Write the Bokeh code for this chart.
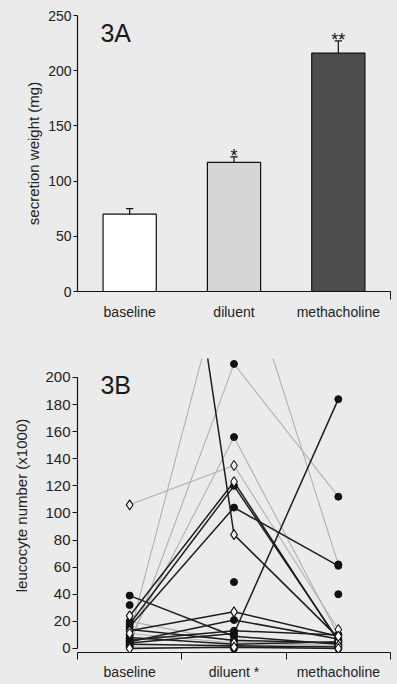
from bokeh.plotting import figure
from bokeh.models import FixedTicker, Label, Range1d
from bokeh.layouts import column
from bokeh.embed import file_html
from bokeh.resources import INLINE
from bokeh.core.properties import value

# ---------------- Panel 3A data ----------------
groups = ["baseline", "diluent", "methacholine"]
secretion_mean = [70, 117, 216]
secretion_err = [5, 5, 11]
bar_colors = ["#ffffff", "#d6d6d6", "#4d4d4d"]
sig_marks = ["", "*", "**"]

# ---------------- Panel 3B data (one entry per subject) ----------------
baseline_vals = [106, 600, 4, 2, 7, 10, 24, 18, 16, 39, 32, 13, 5, 6, 14, 11, 3, 1, 0, 20, 8]
diluent_vals = [135, 84, 11, 210, 156, 305, 123, 120, 104, 9, 49, 27, 21, 13, 6, 4, 2, 0, 1, 5, 3]
metha_vals = [14, 8, 184, 112, 10, 62, 5, 6, 61, 3, 40, 9, 7, 10, 4, 2, 1, 0, 0, 2, 5]
marker_kind = ["diamond", "diamond", "circle", "circle", "circle", "circle", "diamond", "circle",
               "circle", "circle", "circle", "diamond", "circle", "circle", "circle", "diamond",
               "circle", "circle", "diamond", "circle", "circle"]
line_shade = ["light", "dark", "dark", "light", "light", "light", "dark", "dark", "dark", "dark",
              "none", "dark", "dark", "dark", "dark", "light", "dark", "light", "dark", "light", "dark"]
leuco_ticks = list(range(0, 201, 20))
secretion_ticks = list(range(0, 251, 50))

BG = "#ebebeb"
FONT = "Liberation Sans"
xs = [i + 0.5 for i in range(len(groups))]


def style_axes(p, ytick_size):
    for ax in (p.xaxis, p.yaxis):
        ax.major_label_text_font = FONT
        ax.major_label_text_font_size = "14px"
        ax.major_label_text_color = "#222222"
        ax.axis_label_text_font = FONT
        ax.axis_label_text_font_size = "15px"
        ax.axis_label_text_font_style = "normal"
        ax.axis_label_text_color = "#222222"
        ax.axis_line_color = "#111111"
        ax.major_tick_line_color = "#111111"
        ax.minor_tick_line_color = "#111111"
        ax.axis_line_width = 1.2
    p.yaxis.major_label_text_font_size = ytick_size


# ---------------- Figure 3A ----------------
p1 = figure(width=397, height=322, x_range=Range1d(0, 3), y_range=Range1d(0, 250),
            output_backend="svg", toolbar_location=None,
            min_border_left=77, min_border_right=1, min_border_top=15, min_border_bottom=30)
p1.background_fill_color = BG
p1.border_fill_color = BG
p1.outline_line_color = None
p1.grid.visible = False

p1.vbar(x=xs, top=secretion_mean, width=0.51, fill_color=bar_colors,
        line_color="#111111", line_width=1.2)
err_top = [m + e for m, e in zip(secretion_mean, secretion_err)]
p1.segment(x0=xs, y0=secretion_mean, x1=xs, y1=err_top, line_color="#111111", line_width=1.2)
p1.segment(x0=[x - 0.035 for x in xs], y0=err_top, x1=[x + 0.035 for x in xs], y1=err_top,
           line_color="#111111", line_width=1.2)
p1.text(x=xs, y=[t + 1 for t in err_top], text=sig_marks, text_align="center",
        text_baseline="alphabetic", text_font=value(FONT), text_font_size="18px",
        text_color="#111111")

p1.xaxis.ticker = FixedTicker(ticks=xs, minor_ticks=[3])
p1.xaxis.major_label_overrides = {x: g for x, g in zip(xs, groups)}
p1.xaxis.major_tick_out = 0
p1.xaxis.major_tick_in = 0
p1.xaxis.minor_tick_out = 8
p1.xaxis.minor_tick_in = 0
p1.xaxis.major_label_standoff = 4
p1.yaxis.ticker = FixedTicker(ticks=secretion_ticks)
p1.yaxis.minor_tick_out = 0
p1.yaxis.minor_tick_in = 0
p1.yaxis.major_tick_out = 4
p1.yaxis.major_tick_in = 0
p1.yaxis.major_label_standoff = 2
p1.yaxis.axis_label = "secretion weight (mg)"
p1.yaxis.axis_label_standoff = 3
style_axes(p1, "14px")

p1.add_layout(Label(x=0.22, y=247, text="3A", text_baseline="top", text_font=FONT,
                    text_font_size="25px", text_color="#1a1a1a"))

# ---------------- Figure 3B ----------------
p2 = figure(width=397, height=360, x_range=Range1d(0, 3), y_range=Range1d(-3, 214),
            output_backend="svg", toolbar_location=None,
            min_border_left=70, min_border_right=7, min_border_top=36, min_border_bottom=24)
p2.background_fill_color = BG
p2.border_fill_color = BG
p2.outline_line_color = None
p2.grid.visible = False

light_xs, light_ys, dark_xs, dark_ys = [], [], [], []
for b, d, m, s in zip(baseline_vals, diluent_vals, metha_vals, line_shade):
    if s == "light":
        light_xs.append(xs)
        light_ys.append([b, d, m])
    elif s == "dark":
        dark_xs.append(xs)
        dark_ys.append([b, d, m])
p2.multi_line(xs=light_xs, ys=light_ys, line_color="#b0b0b0", line_width=1.1)
p2.multi_line(xs=dark_xs, ys=dark_ys, line_color="#1e1e1e", line_width=1.5)

circ_x, circ_y, dia_x, dia_y = [], [], [], []
for b, d, m, k in zip(baseline_vals, diluent_vals, metha_vals, marker_kind):
    for x, v in zip(xs, (b, d, m)):
        if k == "circle":
            circ_x.append(x)
            circ_y.append(v)
        else:
            dia_x.append(x)
            dia_y.append(v)
p2.scatter(x=circ_x, y=circ_y, marker="circle", size=7, fill_color="#111111", line_color="#111111")
p2.scatter(x=dia_x, y=dia_y, marker="diamond", size=10, fill_color="white",
           line_color="#111111", line_width=1.1)

p2.xaxis.ticker = FixedTicker(ticks=xs, minor_ticks=[0, 1, 2, 3])
p2.xaxis.major_label_overrides = {xs[0]: groups[0], xs[1]: groups[1] + " *", xs[2]: groups[2]}
p2.xaxis.major_tick_out = 0
p2.xaxis.major_tick_in = 0
p2.xaxis.minor_tick_out = 7
p2.xaxis.minor_tick_in = 0
p2.xaxis.major_label_standoff = 4
p2.yaxis.ticker = FixedTicker(ticks=leuco_ticks)
p2.yaxis.bounds = (0, 200)
p2.yaxis.minor_tick_out = 0
p2.yaxis.minor_tick_in = 0
p2.yaxis.major_tick_out = 5
p2.yaxis.major_tick_in = 0
p2.yaxis.major_label_standoff = 2
p2.yaxis.axis_label = "leucocyte number (x1000)"
p2.yaxis.axis_label_standoff = 12
style_axes(p2, "15px")

p2.add_layout(Label(x=0.22, y=205, text="3B", text_baseline="top", text_font=FONT,
                    text_font_size="25px", text_color="#1a1a1a"))

layout = column(p1, p2, spacing=0)
html = file_html(layout, INLINE)
html = html.replace("<head>", "<head><style>body{background:#ebebeb;}</style>", 1)
open("out.html", "w").write(html)
